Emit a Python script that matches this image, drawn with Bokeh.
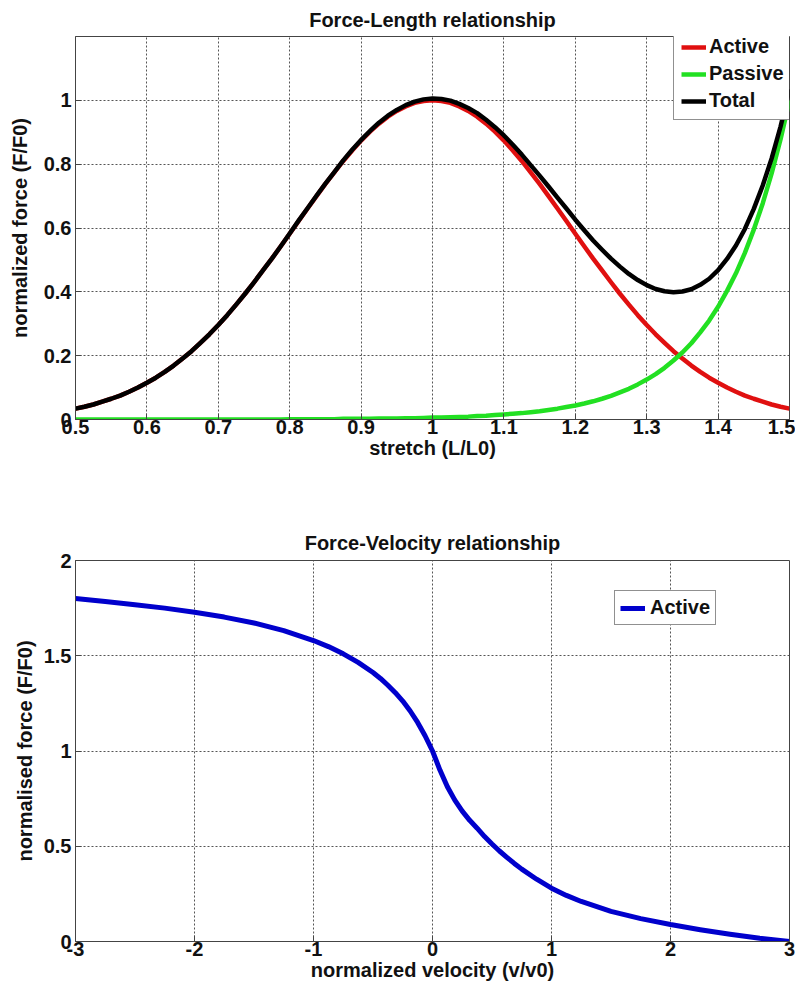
from bokeh.plotting import figure
from bokeh.layouts import column
from bokeh.models import Legend, LegendItem, FixedTicker, Range1d
from bokeh.embed import file_html
from bokeh.resources import INLINE

# ---- Force-Length data ----
stretch = [0.5, 0.5125, 0.525, 0.5375, 0.55, 0.5625, 0.575, 0.5875, 0.6, 0.6125,
           0.625, 0.6375, 0.65, 0.6625, 0.675, 0.6875, 0.7, 0.7125, 0.725, 0.7375,
           0.75, 0.7625, 0.775, 0.7875, 0.8, 0.8125, 0.825, 0.8375, 0.85, 0.8625,
           0.875, 0.8875, 0.9, 0.9125, 0.925, 0.9375, 0.95, 0.9625, 0.975, 0.9875,
           1.0, 1.0125, 1.025, 1.0375, 1.05, 1.0625, 1.075, 1.0875, 1.1, 1.1125,
           1.125, 1.1375, 1.15, 1.1625, 1.175, 1.1875, 1.2, 1.2125, 1.225, 1.2375,
           1.25, 1.2625, 1.275, 1.2875, 1.3, 1.3125, 1.325, 1.3375, 1.35, 1.3625,
           1.375, 1.3875, 1.4, 1.4125, 1.425, 1.4375, 1.45, 1.4625, 1.475, 1.4875, 1.5]
active_fl = [0.034, 0.040, 0.047, 0.056, 0.065, 0.075, 0.087, 0.100, 0.115, 0.131,
             0.149, 0.169, 0.191, 0.214, 0.240, 0.267, 0.296, 0.327, 0.360, 0.394,
             0.430, 0.467, 0.504, 0.543, 0.582, 0.622, 0.661, 0.700, 0.738, 0.774,
             0.810, 0.843, 0.874, 0.902, 0.927, 0.949, 0.967, 0.981, 0.992, 0.998,
             1.000, 0.998, 0.992, 0.981, 0.967, 0.949, 0.927, 0.902, 0.874, 0.843,
             0.810, 0.774, 0.738, 0.700, 0.661, 0.622, 0.582, 0.543, 0.504, 0.467,
             0.430, 0.394, 0.360, 0.327, 0.296, 0.267, 0.240, 0.214, 0.191, 0.169,
             0.149, 0.131, 0.115, 0.100, 0.087, 0.075, 0.065, 0.056, 0.047, 0.040, 0.034]
passive_fl = [0.000, 0.000, 0.000, 0.000, 0.000, 0.000, 0.000, 0.000, 0.000, 0.000,
              0.000, 0.000, 0.000, 0.000, 0.000, 0.000, 0.000, 0.000, 0.000, 0.000,
              0.000, 0.000, 0.000, 0.000, 0.001, 0.001, 0.001, 0.001, 0.001, 0.001,
              0.002, 0.002, 0.002, 0.002, 0.003, 0.003, 0.003, 0.004, 0.004, 0.005,
              0.006, 0.006, 0.007, 0.008, 0.009, 0.011, 0.012, 0.014, 0.016, 0.018,
              0.020, 0.023, 0.026, 0.030, 0.034, 0.039, 0.044, 0.050, 0.057, 0.065,
              0.074, 0.085, 0.096, 0.110, 0.125, 0.142, 0.162, 0.185, 0.210, 0.239,
              0.273, 0.310, 0.353, 0.403, 0.458, 0.522, 0.595, 0.677, 0.771, 0.878, 1.000]
total_fl = [0.034, 0.040, 0.047, 0.056, 0.065, 0.075, 0.087, 0.100, 0.115, 0.131,
            0.149, 0.169, 0.191, 0.214, 0.240, 0.267, 0.296, 0.327, 0.360, 0.394,
            0.430, 0.467, 0.504, 0.543, 0.583, 0.623, 0.662, 0.701, 0.739, 0.775,
            0.812, 0.845, 0.876, 0.904, 0.930, 0.952, 0.970, 0.985, 0.996, 1.003,
            1.006, 1.004, 0.999, 0.989, 0.976, 0.960, 0.939, 0.916, 0.890, 0.861,
            0.830, 0.797, 0.764, 0.730, 0.695, 0.661, 0.626, 0.593, 0.561, 0.532,
            0.504, 0.479, 0.456, 0.437, 0.421, 0.409, 0.402, 0.399, 0.401, 0.408,
            0.422, 0.441, 0.468, 0.503, 0.545, 0.597, 0.660, 0.733, 0.818, 0.918, 1.034]
fl_xticks = [0.5, 0.6, 0.7, 0.8, 0.9, 1.0, 1.1, 1.2, 1.3, 1.4, 1.5]
fl_xlabels = ["0.5", "0.6", "0.7", "0.8", "0.9", "1", "1.1", "1.2", "1.3", "1.4", "1.5"]
fl_yticks = [0, 0.2, 0.4, 0.6, 0.8, 1.0]
fl_ylabels = ["0", "0.2", "0.4", "0.6", "0.8", "1"]

# ---- Force-Velocity data ----
velocity = [-3.0, -2.75, -2.5, -2.25, -2.0, -1.75, -1.5, -1.25, -1.0, -0.875,
            -0.75, -0.625, -0.5, -0.4375, -0.375, -0.3125, -0.25, -0.1875, -0.125, -0.0625,
            0.0, 0.0625, 0.125, 0.1875, 0.25, 0.3125, 0.375, 0.4375, 0.5, 0.5625,
            0.625, 0.6875, 0.75, 0.875, 1.0, 1.125, 1.25, 1.5, 1.75, 2.0,
            2.25, 2.5, 2.75, 3.0]
active_fv = [1.800, 1.785, 1.768, 1.750, 1.728, 1.703, 1.672, 1.632, 1.580, 1.548,
             1.510, 1.465, 1.412, 1.381, 1.345, 1.306, 1.262, 1.210, 1.150, 1.080,
             1.000, 0.900, 0.812, 0.742, 0.684, 0.636, 0.595, 0.551, 0.512, 0.475,
             0.442, 0.410, 0.380, 0.327, 0.280, 0.242, 0.210, 0.158, 0.120, 0.089,
             0.062, 0.038, 0.017, 0.000]
fv_xticks = [-3, -2, -1, 0, 1, 2, 3]
fv_xlabels = ["-3", "-2", "-1", "0", "1", "2", "3"]
fv_yticks = [0, 0.5, 1.0, 1.5, 2.0]
fv_ylabels = ["0", "0.5", "1", "1.5", "2"]

FONT = "Liberation Sans"
FS = "20px"
AX = "#444444"


def style(p, xt, xl, yt, yl, xlabel, ylabel):
    p.title.align = "center"
    p.title.text_font = FONT
    p.title.text_font_size = FS
    p.title.text_font_style = "bold"
    p.title.text_color = "#111111"
    p.outline_line_color = AX
    p.outline_line_width = 1
    p.outline_line_alpha = 1
    p.xaxis.ticker = FixedTicker(ticks=xt)
    p.yaxis.ticker = FixedTicker(ticks=yt)
    p.xaxis.major_label_overrides = {t: s for t, s in zip(xt, xl)}
    p.yaxis.major_label_overrides = {t: s for t, s in zip(yt, yl)}
    for ax in (p.xaxis[0], p.yaxis[0]):
        ax.axis_line_color = AX
        ax.major_tick_line_color = AX
        ax.major_tick_in = 6
        ax.major_tick_out = 0
        ax.minor_tick_line_color = None
        ax.major_label_text_font = FONT
        ax.major_label_text_font_size = FS
        ax.major_label_text_font_style = "bold"
        ax.major_label_text_color = "#111111"
        ax.axis_label_text_font = FONT
        ax.axis_label_text_font_size = FS
        ax.axis_label_text_font_style = "bold"
        ax.axis_label_text_color = "#111111"
    p.xaxis.axis_label = xlabel
    p.yaxis.axis_label = ylabel
    p.xaxis.major_label_standoff = 0
    p.yaxis.major_label_standoff = 4
    for g in (p.xgrid[0], p.ygrid[0]):
        g.grid_line_color = "#555555"
        g.grid_line_dash = "2 2"
        g.grid_line_width = 1
    p.background_fill_color = "white"
    p.border_fill_color = "white"


p1 = figure(width=795, height=492,
            x_range=Range1d(0.5, 1.5), y_range=Range1d(0, 1.2),
            min_border_left=71, min_border_right=6, min_border_top=33, min_border_bottom=73,
            title="Force-Length relationship",
            output_backend="svg", toolbar_location=None)
style(p1, fl_xticks, fl_xlabels, fl_yticks, fl_ylabels, "stretch (L/L0)", "normalized force (F/F0)")
p1.title.standoff = 12
p1.xaxis.axis_label_standoff = 0
p1.yaxis.axis_label_standoff = 10

r_act = p1.line(stretch, active_fl, line_color="#e01010", line_width=4.5, line_join="round")
r_pas = p1.line(stretch, passive_fl, line_color="#22e022", line_width=4.5, line_join="round")
r_tot = p1.line(stretch, total_fl, line_color="#000000", line_width=4.5, line_join="round")

leg1 = Legend(items=[LegendItem(label="Active", renderers=[r_act]),
                     LegendItem(label="Passive", renderers=[r_pas]),
                     LegendItem(label="Total", renderers=[r_tot])],
              location=(598, 299), padding=7, label_standoff=3)
p1.add_layout(leg1, "center")

p2 = figure(width=795, height=495,
            x_range=Range1d(-3, 3), y_range=Range1d(0, 2),
            min_border_left=75, min_border_right=6, min_border_top=68, min_border_bottom=46,
            title="Force-Velocity relationship",
            output_backend="svg", toolbar_location=None)
style(p2, fv_xticks, fv_xlabels, fv_yticks, fv_ylabels, "normalized velocity (v/v0)", "normalised force (F/F0)")
p2.title.standoff = 13
p2.xaxis.axis_label_standoff = 0
p2.yaxis.axis_label_standoff = 5

r_fv = p2.line(velocity, active_fv, line_color="#0000cc", line_width=5, line_join="round")
leg2 = Legend(items=[LegendItem(label="Active", renderers=[r_fv])],
              location=(539, 316), padding=5, label_standoff=5)
p2.add_layout(leg2, "center")

for leg in (leg1, leg2):
    leg.label_text_font = FONT
    leg.label_text_font_size = FS
    leg.label_text_font_style = "bold"
    leg.label_text_color = "#111111"
    leg.border_line_color = "#222222"
    leg.border_line_width = 1
    leg.background_fill_color = "white"
    leg.background_fill_alpha = 1
    leg.spacing = 4
    leg.margin = 0
    leg.glyph_width = 25
    leg.glyph_height = 20
    leg.label_height = 20

layout = column(p1, p2, spacing=0)
open("out.html", "w").write(file_html(layout, INLINE))
